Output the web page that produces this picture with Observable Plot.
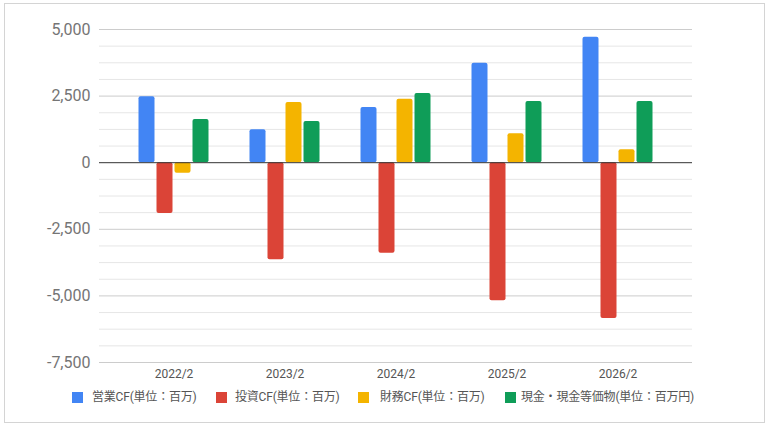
<!DOCTYPE html>
<html>
<head>
<meta charset="utf-8">
<script src="https://cdn.jsdelivr.net/npm/d3@7"></script>
<script src="https://cdn.jsdelivr.net/npm/@observablehq/plot@0.6"></script>
<style>
  body { margin: 0; background: #fff; font-family: Roboto, "Noto Sans CJK JP", sans-serif; }
  #wrap { position: relative; width: 769px; height: 428px; overflow: hidden; }
  #frame { position: absolute; left: 4px; top: 3px; width: 759px; height: 418px; border: 1px solid #d4d4d4; }
  #chart { position: absolute; left: 0; top: 0; }
  .sw { position: absolute; top: 392px; width: 11px; height: 11px; }
  .lt { position: absolute; top: 389px; font-size: 12px; line-height: 16px; color: #555; white-space: nowrap; letter-spacing: -0.2px; }
</style>
</head>
<body>
<div id="wrap">
  <div id="frame"></div>
  <div id="chart"></div>
  <div id="legend"></div>
</div>
<script>
const categories = ["2022/2", "2023/2", "2024/2", "2025/2", "2026/2"];
const seriesNames = ["営業CF(単位：百万)", "投資CF(単位：百万)", "財務CF(単位：百万)", "現金・現金等価物(単位：百万円)"];
const operatingCF = [2480, 1240, 2070, 3730, 4710];
const investingCF = [-1910, -3640, -3400, -5180, -5850];
const financingCF = [-400, 2260, 2380, 1090, 490];
const cashEquivalents = [1620, 1550, 2600, 2300, 2300];
const colors = ["#4285F4", "#DB4437", "#F4B400", "#0F9D58"];
const yTicks = [5000, 2500, 0, -2500, -5000, -7500];
const minorTicks = d3.range(-7500, 5001, 625).filter(v => v % 2500 !== 0);

const seriesValues = [operatingCF, investingCF, financingCF, cashEquivalents];
const bandInsets = [[20.5, 74.5], [38.5, 56.5], [56.5, 38.5], [74.5, 20.5]];

const barMarks = seriesValues.map((vals, k) =>
  Plot.barY(categories.map((c, i) => ({cat: c, v: vals[i]})), {
    x: "cat", y: "v", fill: colors[k],
    insetLeft: bandInsets[k][0], insetRight: bandInsets[k][1], rx: 2
  })
);

const fmt = d => d.toLocaleString("en-US");

const chart = Plot.plot({
  width: 769,
  height: 390,
  marginLeft: 99,
  marginRight: 77,
  marginTop: 29,
  marginBottom: 28,
  style: {fontFamily: "Roboto, sans-serif", background: "transparent", overflow: "visible"},
  x: {type: "band", domain: categories, range: [117.5, 672.5], padding: 0, axis: null},
  y: {domain: [-7500, 5000], axis: null},
  marks: [
    Plot.ruleY(minorTicks, {stroke: "#e6e6e6"}),
    Plot.ruleY(yTicks.filter(v => v !== 0), {stroke: "#cccccc"}),
    ...barMarks,
    Plot.ruleY([0], {stroke: "#333333"}),
    Plot.axisY({ticks: yTicks, tickSize: 0, tickPadding: 9, fontSize: 16, tickFormat: fmt, label: null, color: "#757575", fill: "#757575"}),
    Plot.axisX({tickSize: 0, tickPadding: 7, fontSize: 12, label: null, color: "#555555", fill: "#555555"})
  ]
});
document.getElementById("chart").appendChild(chart);

const swatchX = [72, 216, 358, 505];
const textX = [92, 235, 380, 521];
const legend = document.getElementById("legend");
seriesNames.forEach((name, k) => {
  const s = document.createElement("div");
  s.className = "sw";
  s.style.left = swatchX[k] + "px";
  s.style.background = colors[k];
  legend.appendChild(s);
  const t = document.createElement("div");
  t.className = "lt";
  t.style.left = textX[k] + "px";
  t.textContent = name;
  legend.appendChild(t);
});
</script>
</body>
</html>
